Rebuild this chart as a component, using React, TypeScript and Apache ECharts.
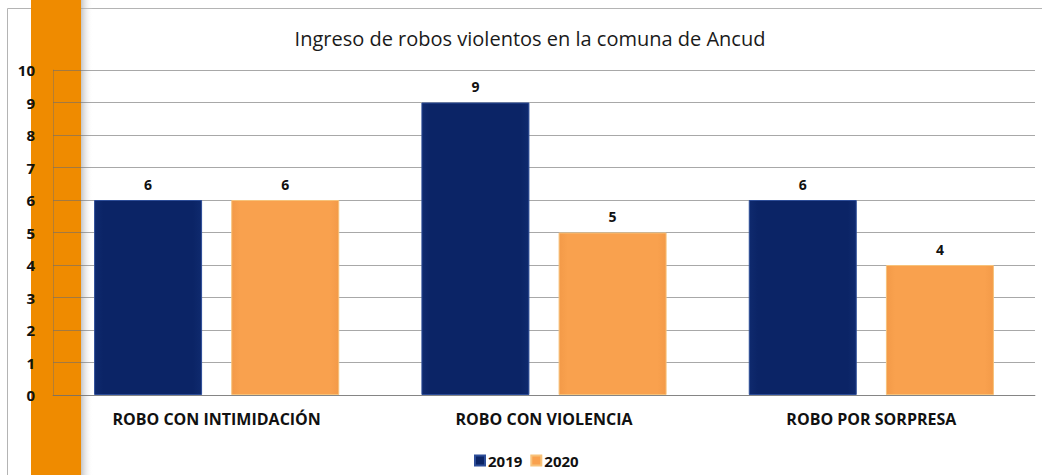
import React, { useEffect, useRef } from "react";
import * as echarts from "echarts";

const categories = ["ROBO CON INTIMIDACIÓN", "ROBO CON VIOLENCIA", "ROBO POR SORPRESA"];
const values2019 = [6, 9, 6];
const values2020 = [6, 5, 4];
const seriesNames = ["2019", "2020"];
const titleText = "Ingreso de robos violentos en la comuna de Ancud";

const FONT = "'Open Sans', 'Noto Sans', sans-serif";

export default function App() {
  const ref = useRef<HTMLDivElement>(null);
  useEffect(() => {
    if (!ref.current) return;
    const chart = echarts.init(ref.current, null, { renderer: "svg" });
    const navy = new echarts.graphic.LinearGradient(0, 0, 1, 0, [
      { offset: 0, color: "#0f2a6e" },
      { offset: 0.08, color: "#0b2466" },
      { offset: 0.92, color: "#0b2466" },
      { offset: 1, color: "#0f2a6e" },
    ]);
    const orange = new echarts.graphic.LinearGradient(0, 0, 1, 0, [
      { offset: 0, color: "#f39a48" },
      { offset: 0.08, color: "#f9a14e" },
      { offset: 0.92, color: "#f9a14e" },
      { offset: 1, color: "#f39a48" },
    ]);
    const labelStyle = {
      show: true,
      position: "top",
      distance: 9,
      fontFamily: FONT,
      fontSize: 14,
      fontWeight: "bold",
      color: "#111",
    };
    chart.setOption({
      animation: false,
      backgroundColor: "#ffffff",
      title: {
        text: titleText,
        left: 525,
        textAlign: "center",
        top: 23,
        textStyle: { fontFamily: FONT, fontSize: 20, fontWeight: "normal", color: "#1a1a1a" },
      },
      graphic: [
        {
          type: "rect",
          z: -10,
          silent: true,
          shape: { x: 7.5, y: 8.5, width: 1100, height: 500 },
          style: { fill: "#ffffff", stroke: "#b4b4b4", lineWidth: 1 },
        },
        {
          type: "rect",
          z: -9,
          silent: true,
          shape: { x: 31, y: 0, width: 50, height: 475 },
          style: { fill: "#ef8b00" },
        },
        {
          type: "rect",
          z: -9,
          silent: true,
          shape: { x: 81, y: 0, width: 12, height: 475 },
          style: {
            fill: new echarts.graphic.LinearGradient(0, 0, 1, 0, [
              { offset: 0, color: "rgba(150,150,150,0.55)" },
              { offset: 1, color: "rgba(255,255,255,0)" },
            ]),
          },
        },
      ],
      legend: {
        top: 448,
        left: 469,
        itemWidth: 10,
        itemHeight: 10,
        itemGap: 8,
        icon: "rect",
        textStyle: { fontFamily: FONT, fontSize: 15, fontWeight: "bold", color: "#111", padding: [0, 0, 0, -2] },
        data: seriesNames,
        orient: "horizontal",
      },
      grid: { left: 53, right: 7, top: 70, bottom: 80, containLabel: false },
      xAxis: {
        type: "category",
        data: categories,
        axisTick: { show: false },
        axisLine: { show: true, lineStyle: { color: "rgba(110,110,110,0.6)" } },
        axisLabel: {
          margin: 16,
          fontFamily: FONT,
          fontSize: 16,
          fontWeight: "bold",
          color: "#111",
        },
      },
      yAxis: {
        type: "value",
        min: 0,
        max: 10,
        interval: 1,
        axisLine: { show: true, lineStyle: { color: "rgba(110,110,110,0.45)" } },
        axisTick: { show: false },
        splitLine: { lineStyle: { color: "rgba(110,110,110,0.6)", width: 1 } },
        axisLabel: {
          margin: 18,
          fontFamily: FONT,
          fontSize: 15,
          fontWeight: "bold",
          color: "#111",
        },
      },
      series: [
        {
          name: seriesNames[0],
          type: "bar",
          data: values2019,
          barWidth: 108,
          barGap: "27%",
          itemStyle: { color: navy, borderColor: "#2d4d98", borderWidth: 1 },
          label: labelStyle,
        },
        {
          name: seriesNames[1],
          type: "bar",
          data: values2020,
          barWidth: 108,
          itemStyle: { color: orange, borderColor: "#f7c27a", borderWidth: 1 },
          label: labelStyle,
        },
      ],
    });
    return () => chart.dispose();
  }, []);
  return (
    <div
      ref={ref}
      style={{ position: "fixed", left: 0, top: 0, width: 1042, height: 475 }}
    />
  );
}
